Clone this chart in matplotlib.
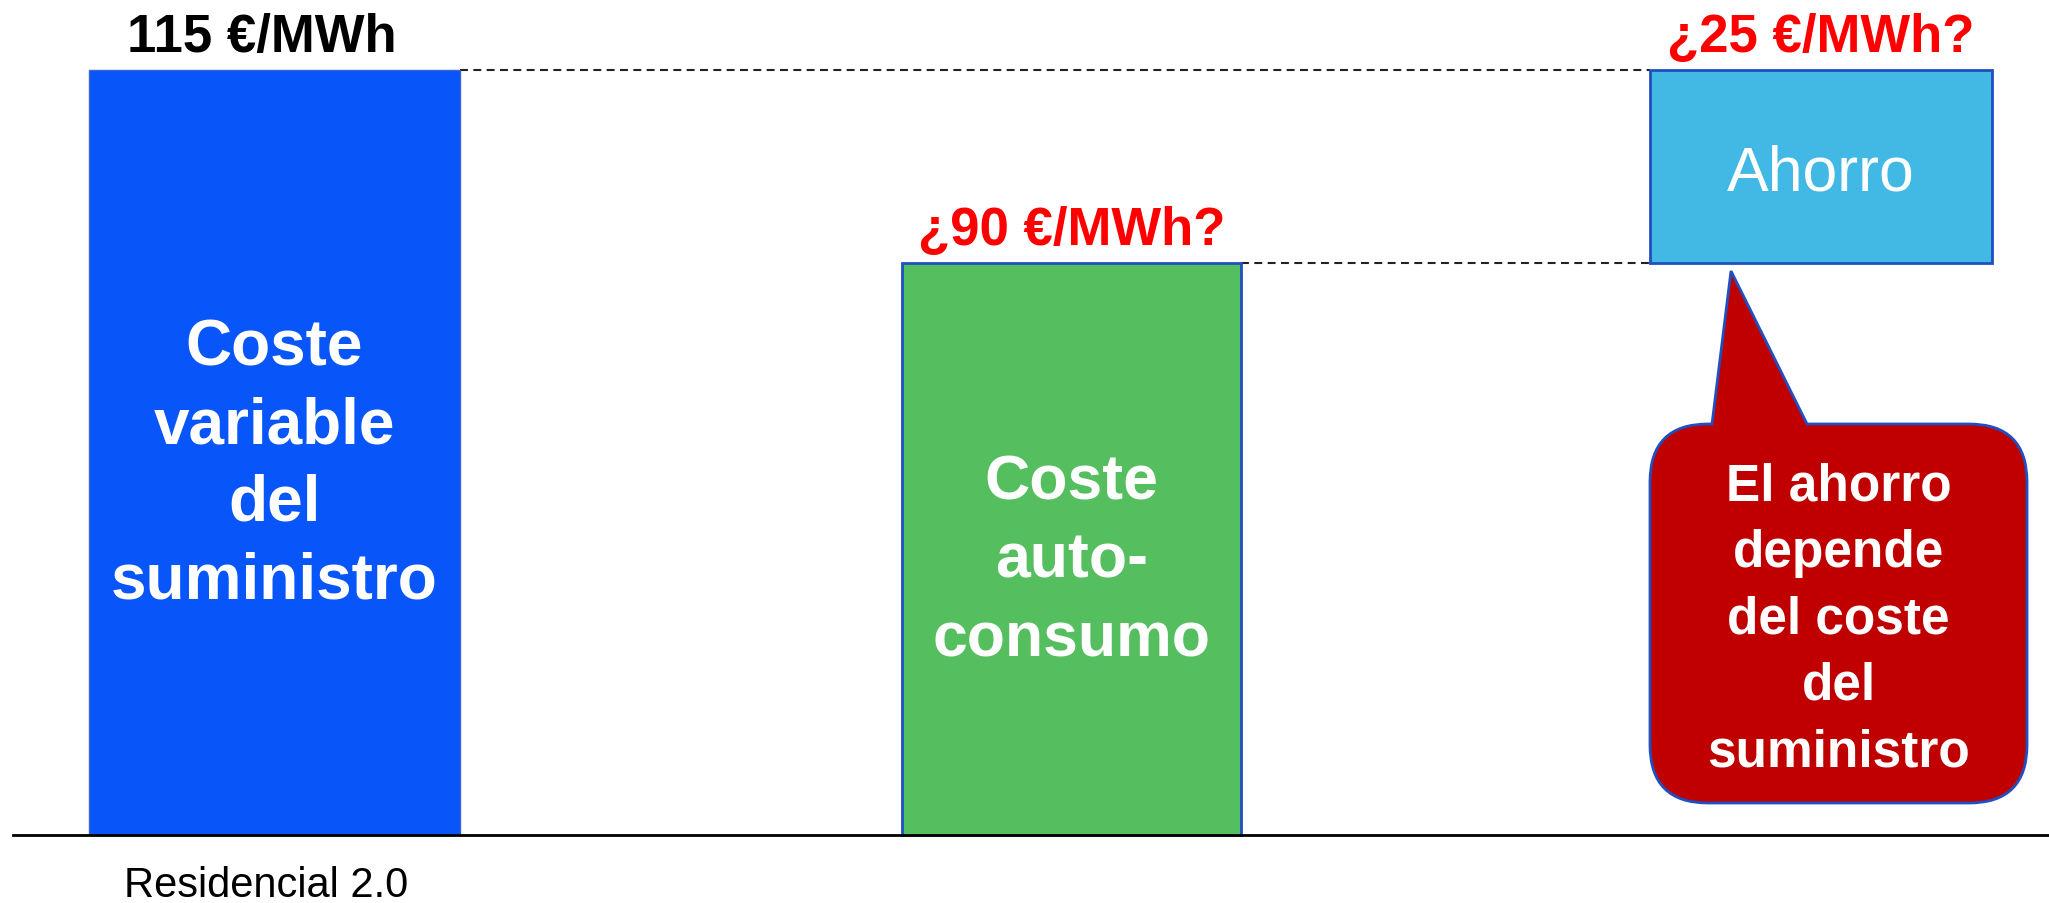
import matplotlib
matplotlib.use("Agg")
import matplotlib.pyplot as plt
from matplotlib.patches import FancyBboxPatch, Polygon

plt.rcParams['font.family'] = ['Liberation Sans', 'DejaVu Sans']

# values (EUR/MWh as drawn in the picture)
categories = ['Coste\nvariable\ndel\nsuministro', 'Coste\nauto-\nconsumo', 'Ahorro']
heights = [115, 86, 29]
bottoms = [0, 0, 86]
top_labels = ['115 €/MWh', '¿90 €/MWh?', '¿25 €/MWh?']
group_label = 'Residencial 2.0'
callout_text = 'El ahorro\ndepende\ndel coste\ndel\nsuministro'

# layout (figure pixels)
W, H = 2049, 904
base_px = 836
px_per_unit = (836 - 71) / 115.0
centers = [274.5, 1071.5, 1821]
widths = [371, 339, 342]
colors = ['#0856F9', '#55BE5F', '#42B8E5']
edges = ['#3A63D6', '#1F4FC0', '#1F4FC0']

fig = plt.figure(figsize=(W / 100, H / 100), dpi=100)
ax = fig.add_axes([0, 0, 1, 1])
ax.set_xlim(0, W)
ax.set_ylim(-(H - base_px) / px_per_unit, base_px / px_per_unit)
ax.axis('off')

bars = ax.bar(centers, heights, width=widths, bottom=bottoms, color=colors,
              edgecolor=edges, linewidth=[1, 2, 2], zorder=2)

# baseline
ax.axhline(0, xmin=13 / W, xmax=1, color='black', lw=2, zorder=3)

# dashed guides
left_ahorro = centers[2] - widths[2] / 2
dash = (0, (3.8, 2.6))
ax.hlines(heights[0], centers[0] + widths[0] / 2, left_ahorro,
          colors='#222222', linestyles=dash, lw=1.5, zorder=1)
ax.hlines(heights[1], centers[1] + widths[1] / 2, left_ahorro,
          colors='#222222', linestyles=dash, lw=1.5, zorder=1)

# labels above bars
label_colors = ['black', '#FF0000', '#FF0000']
for i in range(3):
    ax.annotate(top_labels[i], (centers[i] - (13 if i == 0 else 0), bottoms[i] + heights[i]),
                xytext=(0, 13.5), textcoords='offset points', ha='center', va='baseline',
                fontsize=38, fontweight='bold', color=label_colors[i])

# text inside bars
ax.text(centers[0], bottoms[0] + heights[0] * 0.485, categories[0], ha='center', va='center',
        fontsize=46, fontweight='bold', color='white', linespacing=1.38, zorder=4)
ax.text(centers[1], bottoms[1] + heights[1] * 0.48, categories[1], ha='center', va='center',
        fontsize=45, fontweight='bold', color='white', linespacing=1.42, zorder=4)
ax.text(centers[2], bottoms[2] + heights[2] * 0.465, categories[2], ha='center', va='center',
        fontsize=45, color='white', zorder=4)

# category label
ax.text(266, -(886 - base_px) / px_per_unit, group_label, ha='center', va='center',
        fontsize=30, color='black')

# callout bubble, in pixel coords
ov = fig.add_axes([0, 0, 1, 1])
ov.set_xlim(0, W)
ov.set_ylim(H, 0)
ov.axis('off')
ov.patch.set_alpha(0)

red = '#C00000'
edge = '#1F4FC0'
body = FancyBboxPatch((1650, 425), 2027 - 1650, 804 - 425,
                      boxstyle='round,pad=0,rounding_size=58',
                      facecolor=red, edgecolor=edge, lw=2, zorder=2)
ov.add_patch(body)
ov.add_patch(Polygon([(1712, 425), (1731, 272), (1807, 425), (1807, 432), (1712, 432)],
                     closed=True, facecolor=red, edgecolor='none', zorder=3))
ov.plot([1712, 1731, 1807], [425, 272, 425], color=edge, lw=2, zorder=4,
        solid_joinstyle='miter')
ov.text((1650 + 2027) / 2, 620, callout_text, ha='center', va='center',
        fontsize=37, fontweight='bold', color='white', linespacing=1.46, zorder=5)

fig.savefig('out.png', dpi=100)
